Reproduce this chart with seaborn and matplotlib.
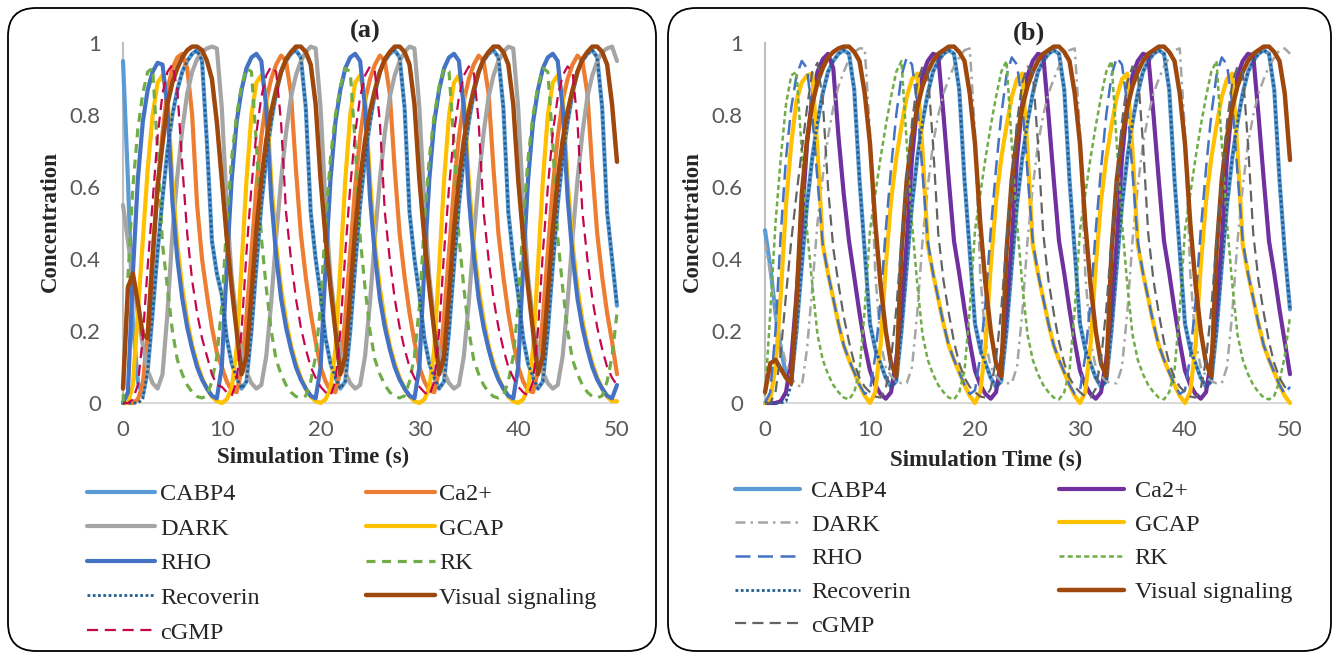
import numpy as np
import pandas as pd
import matplotlib.pyplot as plt
from matplotlib.patches import FancyBboxPatch
import seaborn as sns

# simulation time, one reading every 0.5 s
time_s = np.arange(0, 50.5, 0.5)

series = ["CABP4", "Ca2+", "DARK", "GCAP", "RHO", "RK", "Recoverin", "Visual signaling", "cGMP"]
legend_order = ["CABP4", "DARK", "RHO", "Recoverin", "cGMP", "Ca2+", "GCAP", "RK", "Visual signaling"]
y_ticks = [0, 0.2, 0.4, 0.6, 0.8, 1]
y_tick_labels = ["0", "0.2", "0.4", "0.6", "0.8", "1"]
x_ticks = [0, 10, 20, 30, 40, 50]

# ---------------- panel (a) values ----------------
cabp4_a = [
    0.95, 0.62, 0.22, 0.06, 0.02, 0.09, 0.25, 0.42, 0.57, 0.70, 0.80, 0.87, 0.92, 0.95, 0.97, 0.98, 0.95, 0.72, 0.45, 0.36,
    0.30, 0.18, 0.11, 0.07, 0.04, 0.06, 0.20, 0.38, 0.55, 0.68, 0.78, 0.86, 0.92, 0.95, 0.97, 0.98, 0.96, 0.82, 0.53, 0.40,
    0.30, 0.18, 0.11, 0.07, 0.04, 0.06, 0.20, 0.38, 0.55, 0.68, 0.78, 0.86, 0.92, 0.95, 0.97, 0.98, 0.96, 0.82, 0.53, 0.40,
    0.30, 0.18, 0.11, 0.07, 0.04, 0.06, 0.20, 0.38, 0.55, 0.68, 0.78, 0.86, 0.92, 0.95, 0.97, 0.98, 0.96, 0.82, 0.53, 0.40,
    0.30, 0.18, 0.11, 0.07, 0.04, 0.06, 0.20, 0.38, 0.55, 0.68, 0.78, 0.86, 0.92, 0.95, 0.97, 0.98, 0.96, 0.82, 0.53, 0.40,
    0.27,
]
recoverin_a = [
    0.0, 0.0, 0.0, 0.0, 0.01, 0.09, 0.25, 0.42, 0.57, 0.70, 0.80, 0.87, 0.92, 0.95, 0.97, 0.98, 0.95, 0.72, 0.45, 0.36,
    0.30, 0.18, 0.11, 0.07, 0.04, 0.06, 0.20, 0.38, 0.55, 0.68, 0.78, 0.86, 0.92, 0.95, 0.97, 0.98, 0.96, 0.82, 0.53, 0.40,
    0.30, 0.18, 0.11, 0.07, 0.04, 0.06, 0.20, 0.38, 0.55, 0.68, 0.78, 0.86, 0.92, 0.95, 0.97, 0.98, 0.96, 0.82, 0.53, 0.40,
    0.30, 0.18, 0.11, 0.07, 0.04, 0.06, 0.20, 0.38, 0.55, 0.68, 0.78, 0.86, 0.92, 0.95, 0.97, 0.98, 0.96, 0.82, 0.53, 0.40,
    0.30, 0.18, 0.11, 0.07, 0.04, 0.06, 0.20, 0.38, 0.55, 0.68, 0.78, 0.86, 0.92, 0.95, 0.97, 0.98, 0.96, 0.82, 0.53, 0.40,
    0.27,
]
ca_a = [
    0.0, 0.0, 0.0, 0.01, 0.05, 0.20, 0.42, 0.60, 0.75, 0.87, 0.93, 0.96, 0.97, 0.93, 0.80, 0.55, 0.40, 0.30, 0.21, 0.14,
    0.10, 0.06, 0.035, 0.03, 0.09, 0.24, 0.42, 0.60, 0.74, 0.84, 0.90, 0.94, 0.965, 0.95, 0.86, 0.65, 0.47, 0.35, 0.25, 0.17,
    0.10, 0.06, 0.035, 0.03, 0.09, 0.24, 0.42, 0.60, 0.74, 0.84, 0.90, 0.94, 0.965, 0.95, 0.86, 0.65, 0.47, 0.35, 0.25, 0.17,
    0.10, 0.06, 0.035, 0.03, 0.09, 0.24, 0.42, 0.60, 0.74, 0.84, 0.90, 0.94, 0.965, 0.95, 0.86, 0.65, 0.47, 0.35, 0.25, 0.17,
    0.10, 0.06, 0.035, 0.03, 0.09, 0.24, 0.42, 0.60, 0.74, 0.84, 0.90, 0.94, 0.965, 0.95, 0.86, 0.65, 0.47, 0.35, 0.25, 0.17,
    0.08,
]
dark_a = [
    0.55, 0.45, 0.35, 0.25, 0.16, 0.09, 0.055, 0.04, 0.08, 0.25, 0.47, 0.63, 0.76, 0.86, 0.92, 0.955, 0.975, 0.985, 0.99, 0.985,
    0.82, 0.55, 0.35, 0.23, 0.14, 0.085, 0.055, 0.04, 0.05, 0.13, 0.28, 0.46, 0.62, 0.75, 0.85, 0.91, 0.95, 0.975, 0.99, 0.985,
    0.82, 0.55, 0.35, 0.23, 0.14, 0.085, 0.055, 0.04, 0.05, 0.13, 0.28, 0.46, 0.62, 0.75, 0.85, 0.91, 0.95, 0.975, 0.99, 0.985,
    0.82, 0.55, 0.35, 0.23, 0.14, 0.085, 0.055, 0.04, 0.05, 0.13, 0.28, 0.46, 0.62, 0.75, 0.85, 0.91, 0.95, 0.975, 0.99, 0.985,
    0.82, 0.55, 0.35, 0.23, 0.14, 0.085, 0.055, 0.04, 0.05, 0.13, 0.28, 0.46, 0.62, 0.75, 0.85, 0.91, 0.95, 0.975, 0.985, 0.99,
    0.95,
]
gcap_a = [
    0.0, 0.0, 0.05, 0.25, 0.45, 0.65, 0.80, 0.89, 0.91, 0.85, 0.62, 0.44, 0.32, 0.23, 0.16, 0.11, 0.07, 0.04, 0.018, 0.005,
    0.0, 0.01, 0.04, 0.15, 0.38, 0.62, 0.80, 0.89, 0.91, 0.85, 0.62, 0.44, 0.32, 0.23, 0.16, 0.11, 0.07, 0.04, 0.018, 0.005,
    0.0, 0.01, 0.04, 0.15, 0.38, 0.62, 0.80, 0.89, 0.91, 0.85, 0.62, 0.44, 0.32, 0.23, 0.16, 0.11, 0.07, 0.04, 0.018, 0.005,
    0.0, 0.01, 0.04, 0.15, 0.38, 0.62, 0.80, 0.89, 0.91, 0.85, 0.62, 0.44, 0.32, 0.23, 0.16, 0.11, 0.07, 0.04, 0.018, 0.005,
    0.0, 0.01, 0.04, 0.15, 0.38, 0.62, 0.80, 0.89, 0.91, 0.85, 0.62, 0.44, 0.32, 0.23, 0.16, 0.11, 0.07, 0.04, 0.018, 0.005,
    0.005,
]
rho_a = [
    0.0, 0.03, 0.36, 0.62, 0.78, 0.87, 0.92, 0.945, 0.94, 0.82, 0.56, 0.40, 0.29, 0.21, 0.15, 0.10, 0.065, 0.04, 0.02, 0.013,
    0.10, 0.38, 0.62, 0.78, 0.87, 0.93, 0.96, 0.97, 0.95, 0.82, 0.57, 0.41, 0.29, 0.21, 0.15, 0.10, 0.065, 0.04, 0.02, 0.013,
    0.10, 0.38, 0.62, 0.78, 0.87, 0.93, 0.96, 0.97, 0.95, 0.82, 0.57, 0.41, 0.29, 0.21, 0.15, 0.10, 0.065, 0.04, 0.02, 0.013,
    0.10, 0.38, 0.62, 0.78, 0.87, 0.93, 0.96, 0.97, 0.95, 0.82, 0.57, 0.41, 0.29, 0.21, 0.15, 0.10, 0.065, 0.04, 0.02, 0.013,
    0.10, 0.38, 0.62, 0.78, 0.87, 0.93, 0.96, 0.97, 0.95, 0.82, 0.57, 0.41, 0.29, 0.21, 0.15, 0.10, 0.065, 0.04, 0.02, 0.013,
    0.05,
]
rk_a = [
    0.0, 0.35, 0.60, 0.76, 0.86, 0.92, 0.93, 0.70, 0.44, 0.32, 0.20, 0.12, 0.08, 0.05, 0.03, 0.018, 0.014, 0.02, 0.06, 0.13,
    0.27, 0.50, 0.68, 0.80, 0.88, 0.93, 0.92, 0.72, 0.46, 0.32, 0.20, 0.12, 0.08, 0.05, 0.03, 0.018, 0.014, 0.02, 0.06, 0.13,
    0.27, 0.50, 0.68, 0.80, 0.88, 0.93, 0.92, 0.72, 0.46, 0.32, 0.20, 0.12, 0.08, 0.05, 0.03, 0.018, 0.014, 0.02, 0.06, 0.13,
    0.27, 0.50, 0.68, 0.80, 0.88, 0.93, 0.92, 0.72, 0.46, 0.32, 0.20, 0.12, 0.08, 0.05, 0.03, 0.018, 0.014, 0.02, 0.06, 0.13,
    0.27, 0.50, 0.68, 0.80, 0.88, 0.93, 0.92, 0.72, 0.46, 0.32, 0.20, 0.12, 0.08, 0.05, 0.03, 0.018, 0.014, 0.02, 0.06, 0.13,
    0.25,
]
visual_a = [
    0.04, 0.32, 0.36, 0.28, 0.19, 0.18, 0.40, 0.60, 0.72, 0.83, 0.89, 0.93, 0.96, 0.98, 0.99, 0.99, 0.98, 0.95, 0.90, 0.78,
    0.62, 0.46, 0.32, 0.20, 0.08, 0.13, 0.30, 0.48, 0.62, 0.73, 0.81, 0.87, 0.92, 0.955, 0.975, 0.99, 0.99, 0.975, 0.94, 0.83,
    0.62, 0.46, 0.32, 0.20, 0.08, 0.13, 0.30, 0.48, 0.62, 0.73, 0.81, 0.87, 0.92, 0.955, 0.975, 0.99, 0.99, 0.975, 0.94, 0.83,
    0.62, 0.46, 0.32, 0.20, 0.08, 0.13, 0.30, 0.48, 0.62, 0.73, 0.81, 0.87, 0.92, 0.955, 0.975, 0.99, 0.99, 0.975, 0.94, 0.83,
    0.62, 0.46, 0.32, 0.20, 0.08, 0.13, 0.30, 0.48, 0.62, 0.73, 0.81, 0.87, 0.92, 0.955, 0.975, 0.99, 0.99, 0.975, 0.94, 0.83,
    0.67,
]
cgmp_a = [
    0.0, 0.0, 0.01, 0.05, 0.18, 0.38, 0.56, 0.74, 0.86, 0.92, 0.94, 0.87, 0.66, 0.47, 0.34, 0.25, 0.18, 0.13, 0.08, 0.05,
    0.045, 0.03, 0.02, 0.06, 0.20, 0.42, 0.60, 0.75, 0.85, 0.91, 0.935, 0.92, 0.78, 0.53, 0.40, 0.29, 0.21, 0.15, 0.10, 0.07,
    0.045, 0.03, 0.02, 0.06, 0.20, 0.42, 0.60, 0.75, 0.85, 0.91, 0.935, 0.92, 0.78, 0.53, 0.40, 0.29, 0.21, 0.15, 0.10, 0.07,
    0.045, 0.03, 0.02, 0.06, 0.20, 0.42, 0.60, 0.75, 0.85, 0.91, 0.935, 0.92, 0.78, 0.53, 0.40, 0.29, 0.21, 0.15, 0.10, 0.07,
    0.045, 0.03, 0.02, 0.06, 0.20, 0.42, 0.60, 0.75, 0.85, 0.91, 0.935, 0.92, 0.78, 0.53, 0.40, 0.29, 0.21, 0.15, 0.10, 0.07,
    0.05,
]

# ---------------- panel (b) values ----------------
cabp4_b = [
    0.48, 0.38, 0.25, 0.15, 0.08, 0.06, 0.20, 0.38, 0.55, 0.68, 0.78, 0.86, 0.92, 0.95, 0.97, 0.98, 0.97, 0.87, 0.62, 0.42,
    0.22, 0.15, 0.11, 0.07, 0.045, 0.06, 0.20, 0.38, 0.55, 0.68, 0.78, 0.86, 0.92, 0.95, 0.97, 0.98, 0.97, 0.87, 0.62, 0.42,
    0.22, 0.15, 0.11, 0.07, 0.045, 0.06, 0.20, 0.38, 0.55, 0.68, 0.78, 0.86, 0.92, 0.95, 0.97, 0.98, 0.97, 0.87, 0.62, 0.42,
    0.22, 0.15, 0.11, 0.07, 0.045, 0.06, 0.20, 0.38, 0.55, 0.68, 0.78, 0.86, 0.92, 0.95, 0.97, 0.98, 0.97, 0.87, 0.62, 0.42,
    0.22, 0.15, 0.11, 0.07, 0.045, 0.06, 0.20, 0.38, 0.55, 0.68, 0.78, 0.86, 0.92, 0.95, 0.97, 0.98, 0.97, 0.87, 0.62, 0.42,
    0.26,
]
recoverin_b = [
    0.0, 0.0, 0.0, 0.0, 0.005, 0.05, 0.20, 0.38, 0.55, 0.68, 0.78, 0.86, 0.92, 0.95, 0.97, 0.98, 0.97, 0.87, 0.62, 0.42,
    0.22, 0.15, 0.11, 0.07, 0.045, 0.06, 0.20, 0.38, 0.55, 0.68, 0.78, 0.86, 0.92, 0.95, 0.97, 0.98, 0.97, 0.87, 0.62, 0.42,
    0.22, 0.15, 0.11, 0.07, 0.045, 0.06, 0.20, 0.38, 0.55, 0.68, 0.78, 0.86, 0.92, 0.95, 0.97, 0.98, 0.97, 0.87, 0.62, 0.42,
    0.22, 0.15, 0.11, 0.07, 0.045, 0.06, 0.20, 0.38, 0.55, 0.68, 0.78, 0.86, 0.92, 0.95, 0.97, 0.98, 0.97, 0.87, 0.62, 0.42,
    0.22, 0.15, 0.11, 0.07, 0.045, 0.06, 0.20, 0.38, 0.55, 0.68, 0.78, 0.86, 0.92, 0.95, 0.97, 0.98, 0.97, 0.87, 0.62, 0.42,
    0.26,
]
ca_b = [
    0.0, 0.0, 0.0, 0.005, 0.03, 0.12, 0.30, 0.50, 0.72, 0.85, 0.92, 0.955, 0.97, 0.93, 0.74, 0.58, 0.45, 0.35, 0.25, 0.16,
    0.09, 0.05, 0.025, 0.012, 0.03, 0.12, 0.25, 0.45, 0.68, 0.83, 0.91, 0.95, 0.97, 0.965, 0.80, 0.62, 0.45, 0.36, 0.26, 0.17,
    0.09, 0.05, 0.025, 0.012, 0.03, 0.12, 0.25, 0.45, 0.68, 0.83, 0.91, 0.95, 0.97, 0.965, 0.80, 0.62, 0.45, 0.36, 0.26, 0.17,
    0.09, 0.05, 0.025, 0.012, 0.03, 0.12, 0.25, 0.45, 0.68, 0.83, 0.91, 0.95, 0.97, 0.965, 0.80, 0.62, 0.45, 0.36, 0.26, 0.17,
    0.09, 0.05, 0.025, 0.012, 0.03, 0.12, 0.25, 0.45, 0.68, 0.83, 0.91, 0.95, 0.97, 0.965, 0.80, 0.62, 0.45, 0.36, 0.26, 0.17,
    0.08,
]
dark_b = [
    0.45, 0.36, 0.26, 0.17, 0.11, 0.07, 0.05, 0.045, 0.15, 0.32, 0.50, 0.63, 0.74, 0.82, 0.88, 0.92, 0.955, 0.975, 0.985, 0.985,
    0.75, 0.36, 0.17, 0.10, 0.075, 0.06, 0.055, 0.055, 0.10, 0.25, 0.45, 0.60, 0.72, 0.80, 0.86, 0.90, 0.935, 0.96, 0.98, 0.985,
    0.75, 0.36, 0.17, 0.10, 0.075, 0.06, 0.055, 0.055, 0.10, 0.25, 0.45, 0.60, 0.72, 0.80, 0.86, 0.90, 0.935, 0.96, 0.98, 0.985,
    0.75, 0.36, 0.17, 0.10, 0.075, 0.06, 0.055, 0.055, 0.10, 0.25, 0.45, 0.60, 0.72, 0.80, 0.86, 0.90, 0.935, 0.96, 0.98, 0.985,
    0.75, 0.36, 0.17, 0.10, 0.075, 0.06, 0.055, 0.055, 0.10, 0.25, 0.45, 0.60, 0.72, 0.80, 0.86, 0.90, 0.935, 0.96, 0.98, 0.985,
    0.97,
]
gcap_b = [
    0.0, 0.01, 0.10, 0.30, 0.55, 0.72, 0.84, 0.89, 0.91, 0.915, 0.70, 0.44, 0.36, 0.29, 0.22, 0.16, 0.12, 0.085, 0.05, 0.02,
    0.0, 0.03, 0.16, 0.38, 0.56, 0.68, 0.77, 0.85, 0.90, 0.915, 0.70, 0.44, 0.36, 0.29, 0.22, 0.16, 0.12, 0.085, 0.05, 0.02,
    0.0, 0.03, 0.16, 0.38, 0.56, 0.68, 0.77, 0.85, 0.90, 0.915, 0.70, 0.44, 0.36, 0.29, 0.22, 0.16, 0.12, 0.085, 0.05, 0.02,
    0.0, 0.03, 0.16, 0.38, 0.56, 0.68, 0.77, 0.85, 0.90, 0.915, 0.70, 0.44, 0.36, 0.29, 0.22, 0.16, 0.12, 0.085, 0.05, 0.02,
    0.0, 0.03, 0.16, 0.38, 0.56, 0.68, 0.77, 0.85, 0.90, 0.915, 0.70, 0.44, 0.36, 0.29, 0.22, 0.16, 0.12, 0.085, 0.05, 0.02,
    0.0,
]
rho_b = [
    0.0, 0.03, 0.20, 0.47, 0.68, 0.82, 0.91, 0.95, 0.93, 0.80, 0.62, 0.44, 0.36, 0.29, 0.22, 0.16, 0.12, 0.085, 0.05, 0.025,
    0.035, 0.13, 0.28, 0.48, 0.65, 0.80, 0.91, 0.96, 0.94, 0.83, 0.64, 0.45, 0.36, 0.29, 0.22, 0.16, 0.12, 0.085, 0.05, 0.025,
    0.035, 0.13, 0.28, 0.48, 0.65, 0.80, 0.91, 0.96, 0.94, 0.83, 0.64, 0.45, 0.36, 0.29, 0.22, 0.16, 0.12, 0.085, 0.05, 0.025,
    0.035, 0.13, 0.28, 0.48, 0.65, 0.80, 0.91, 0.96, 0.94, 0.83, 0.64, 0.45, 0.36, 0.29, 0.22, 0.16, 0.12, 0.085, 0.05, 0.025,
    0.035, 0.13, 0.28, 0.48, 0.65, 0.80, 0.91, 0.96, 0.94, 0.83, 0.64, 0.45, 0.36, 0.29, 0.22, 0.16, 0.12, 0.085, 0.05, 0.025,
    0.045,
]
rk_b = [
    0.02, 0.25, 0.50, 0.68, 0.83, 0.91, 0.92, 0.70, 0.48, 0.33, 0.19, 0.12, 0.08, 0.05, 0.03, 0.015, 0.01, 0.03, 0.09, 0.26,
    0.48, 0.58, 0.68, 0.77, 0.85, 0.92, 0.95, 0.72, 0.50, 0.33, 0.19, 0.12, 0.08, 0.05, 0.03, 0.015, 0.01, 0.03, 0.09, 0.26,
    0.48, 0.58, 0.68, 0.77, 0.85, 0.92, 0.95, 0.72, 0.50, 0.33, 0.19, 0.12, 0.08, 0.05, 0.03, 0.015, 0.01, 0.03, 0.09, 0.26,
    0.48, 0.58, 0.68, 0.77, 0.85, 0.92, 0.95, 0.72, 0.50, 0.33, 0.19, 0.12, 0.08, 0.05, 0.03, 0.015, 0.01, 0.03, 0.09, 0.26,
    0.48, 0.58, 0.68, 0.77, 0.85, 0.92, 0.95, 0.72, 0.50, 0.33, 0.19, 0.12, 0.08, 0.05, 0.03, 0.015, 0.01, 0.02, 0.06, 0.13,
    0.24,
]
visual_b = [
    0.03, 0.11, 0.12, 0.095, 0.07, 0.055, 0.28, 0.58, 0.73, 0.83, 0.89, 0.93, 0.96, 0.975, 0.985, 0.99, 0.99, 0.975, 0.95, 0.86,
    0.72, 0.50, 0.33, 0.20, 0.11, 0.075, 0.42, 0.62, 0.74, 0.82, 0.88, 0.92, 0.95, 0.97, 0.98, 0.99, 0.99, 0.975, 0.95, 0.86,
    0.72, 0.50, 0.33, 0.20, 0.11, 0.075, 0.42, 0.62, 0.74, 0.82, 0.88, 0.92, 0.95, 0.97, 0.98, 0.99, 0.99, 0.975, 0.95, 0.86,
    0.72, 0.50, 0.33, 0.20, 0.11, 0.075, 0.42, 0.62, 0.74, 0.82, 0.88, 0.92, 0.95, 0.97, 0.98, 0.99, 0.99, 0.975, 0.95, 0.86,
    0.72, 0.50, 0.33, 0.20, 0.11, 0.075, 0.42, 0.62, 0.74, 0.82, 0.88, 0.92, 0.95, 0.97, 0.98, 0.99, 0.99, 0.975, 0.95, 0.86,
    0.675,
]
cgmp_b = [
    0.0, 0.0, 0.03, 0.14, 0.30, 0.45, 0.58, 0.70, 0.82, 0.92, 0.945, 0.84, 0.60, 0.43, 0.33, 0.24, 0.17, 0.11, 0.07, 0.045,
    0.03, 0.018, 0.015, 0.04, 0.12, 0.26, 0.45, 0.62, 0.78, 0.89, 0.935, 0.92, 0.72, 0.47, 0.34, 0.25, 0.17, 0.11, 0.07, 0.045,
    0.03, 0.018, 0.015, 0.04, 0.12, 0.26, 0.45, 0.62, 0.78, 0.89, 0.935, 0.92, 0.72, 0.47, 0.34, 0.25, 0.17, 0.11, 0.07, 0.045,
    0.03, 0.018, 0.015, 0.04, 0.12, 0.26, 0.45, 0.62, 0.78, 0.89, 0.935, 0.92, 0.72, 0.47, 0.34, 0.25, 0.17, 0.11, 0.07, 0.045,
    0.03, 0.018, 0.015, 0.04, 0.12, 0.26, 0.45, 0.62, 0.78, 0.89, 0.935, 0.92, 0.72, 0.47, 0.34, 0.25, 0.17, 0.11, 0.07, 0.045,
    0.035,
]

df_a = pd.DataFrame({"time": time_s, "CABP4": cabp4_a, "Ca2+": ca_a, "DARK": dark_a, "GCAP": gcap_a,
                     "RHO": rho_a, "RK": rk_a, "Recoverin": recoverin_a, "Visual signaling": visual_a,
                     "cGMP": cgmp_a})
df_b = pd.DataFrame({"time": time_s, "CABP4": cabp4_b, "Ca2+": ca_b, "DARK": dark_b, "GCAP": gcap_b,
                     "RHO": rho_b, "RK": rk_b, "Recoverin": recoverin_b, "Visual signaling": visual_b,
                     "cGMP": cgmp_b})

# line styles (Excel-like): colour, width, dash
style_a = {
    "CABP4": ("#5B9BD5", 3.0, "-"),
    "Ca2+": ("#ED7D31", 3.0, "-"),
    "DARK": ("#A5A5A5", 3.0, "-"),
    "GCAP": ("#FFC000", 3.0, "-"),
    "RHO": ("#4472C4", 3.0, "-"),
    "RK": ("#70AD47", 2.3, (0, (2.8, 2.1))),
    "Recoverin": ("#255E91", 2.0, (0, (1, 0.9))),
    "Visual signaling": ("#9E480E", 3.2, "-"),
    "cGMP": ("#C5064E", 1.6, (0, (5, 3))),
}
style_b = {
    "CABP4": ("#5B9BD5", 3.0, "-"),
    "Ca2+": ("#7030A0", 3.0, "-"),
    "DARK": ("#A5A5A5", 1.8, (0, (4, 2, 1, 2))),
    "GCAP": ("#FFC000", 3.0, "-"),
    "RHO": ("#4472C4", 1.8, (0, (6, 3))),
    "RK": ("#70AD47", 1.8, (0, (2, 1.3))),
    "Recoverin": ("#255E91", 2.0, (0, (1, 0.9))),
    "Visual signaling": ("#9E480E", 3.2, "-"),
    "cGMP": ("#636363", 1.6, (0, (5, 2.8))),
}

sns.set_style("white")
plt.rcParams["font.family"] = ["Liberation Serif", "DejaVu Serif"]

W, H = 1335, 653
fig = plt.figure(figsize=(W / 100, H / 100), dpi=100)

# rounded frames around the two panels, drawn in pixel units
bg = fig.add_axes([0, 0, 1, 1], zorder=-1)
bg.set_xlim(0, W)
bg.set_ylim(H, 0)
bg.axis("off")
for x0, x1 in [(8, 656), (668, 1331)]:
    bg.add_patch(FancyBboxPatch((x0, 8), x1 - x0, 643, boxstyle="round,pad=0,rounding_size=28",
                                fc="white", ec="black", lw=1.3))


def draw_panel(ax, df, styles):
    for name in series:
        color, lw, ls = styles[name]
        sns.lineplot(data=df, x="time", y=name, ax=ax, color=color, linewidth=lw, linestyle=ls,
                     label=name, legend=False, errorbar=None, clip_on=False, zorder=3)
    ax.set_xlim(0, 50)
    ax.set_ylim(0, 1)
    ax.set_xticks(x_ticks)
    ax.set_yticks(y_ticks)
    ax.set_yticklabels(y_tick_labels)
    ax.set_xlabel("")
    ax.set_ylabel("")
    ax.set_facecolor("none")
    for s in ["top", "right"]:
        ax.spines[s].set_visible(False)
    ax.spines["left"].set_color("#BFBFBF")
    ax.spines["bottom"].set_color("#D9D9D9")
    ax.spines["left"].set_linewidth(1.5)
    ax.spines["bottom"].set_linewidth(1.5)
    ax.tick_params(axis="both", length=0, labelsize=16, colors="#595959")
    ax.tick_params(axis="x", pad=12)
    ax.tick_params(axis="y", pad=16)
    for lab in ax.get_xticklabels() + ax.get_yticklabels():
        lab.set_fontfamily("Lato")


def px(x, y):
    return x / W, 1 - y / H


ax_a = fig.add_axes([123 / W, 250 / H, 494 / W, 360 / H])
ax_b = fig.add_axes([765 / W, 250 / H, 525 / W, 360 / H])
draw_panel(ax_a, df_a, style_a)
draw_panel(ax_b, df_b, style_b)

lab_kw = dict(fontsize=16.5, fontweight="bold", ha="center", va="center")
fig.text(*px(50, 222), "Concentration", rotation=90, **lab_kw)
fig.text(*px(692, 222), "Concentration", rotation=90, **lab_kw)
fig.text(*px(313, 457), "Simulation Time (s)", **lab_kw)
fig.text(*px(986, 460), "Simulation Time (s)", **lab_kw)
fig.text(*px(365, 31), "(a)", fontsize=19, fontweight="bold", ha="center", va="center")
fig.text(*px(1029, 33), "(b)", fontsize=19, fontweight="bold", ha="center", va="center")


def add_legend(ax, anchor, hlen, hpad, cspace, lspace):
    handles, labels = ax.get_legend_handles_labels()
    lookup = dict(zip(labels, handles))
    ax.legend([lookup[n] for n in legend_order], legend_order, ncol=2, loc="upper left",
              bbox_to_anchor=px(*anchor), bbox_transform=fig.transFigure, frameon=False,
              borderpad=0, borderaxespad=0, handlelength=hlen, handletextpad=hpad,
              columnspacing=cspace, labelspacing=lspace, prop={"size": 17.5})


add_legend(ax_a, (87, 483), 2.8, 0.2, 4.4, 0.52)
add_legend(ax_b, (735, 480), 2.67, 0.45, 6.1, 0.48)

fig.savefig("out.png", dpi=100, facecolor="white")
